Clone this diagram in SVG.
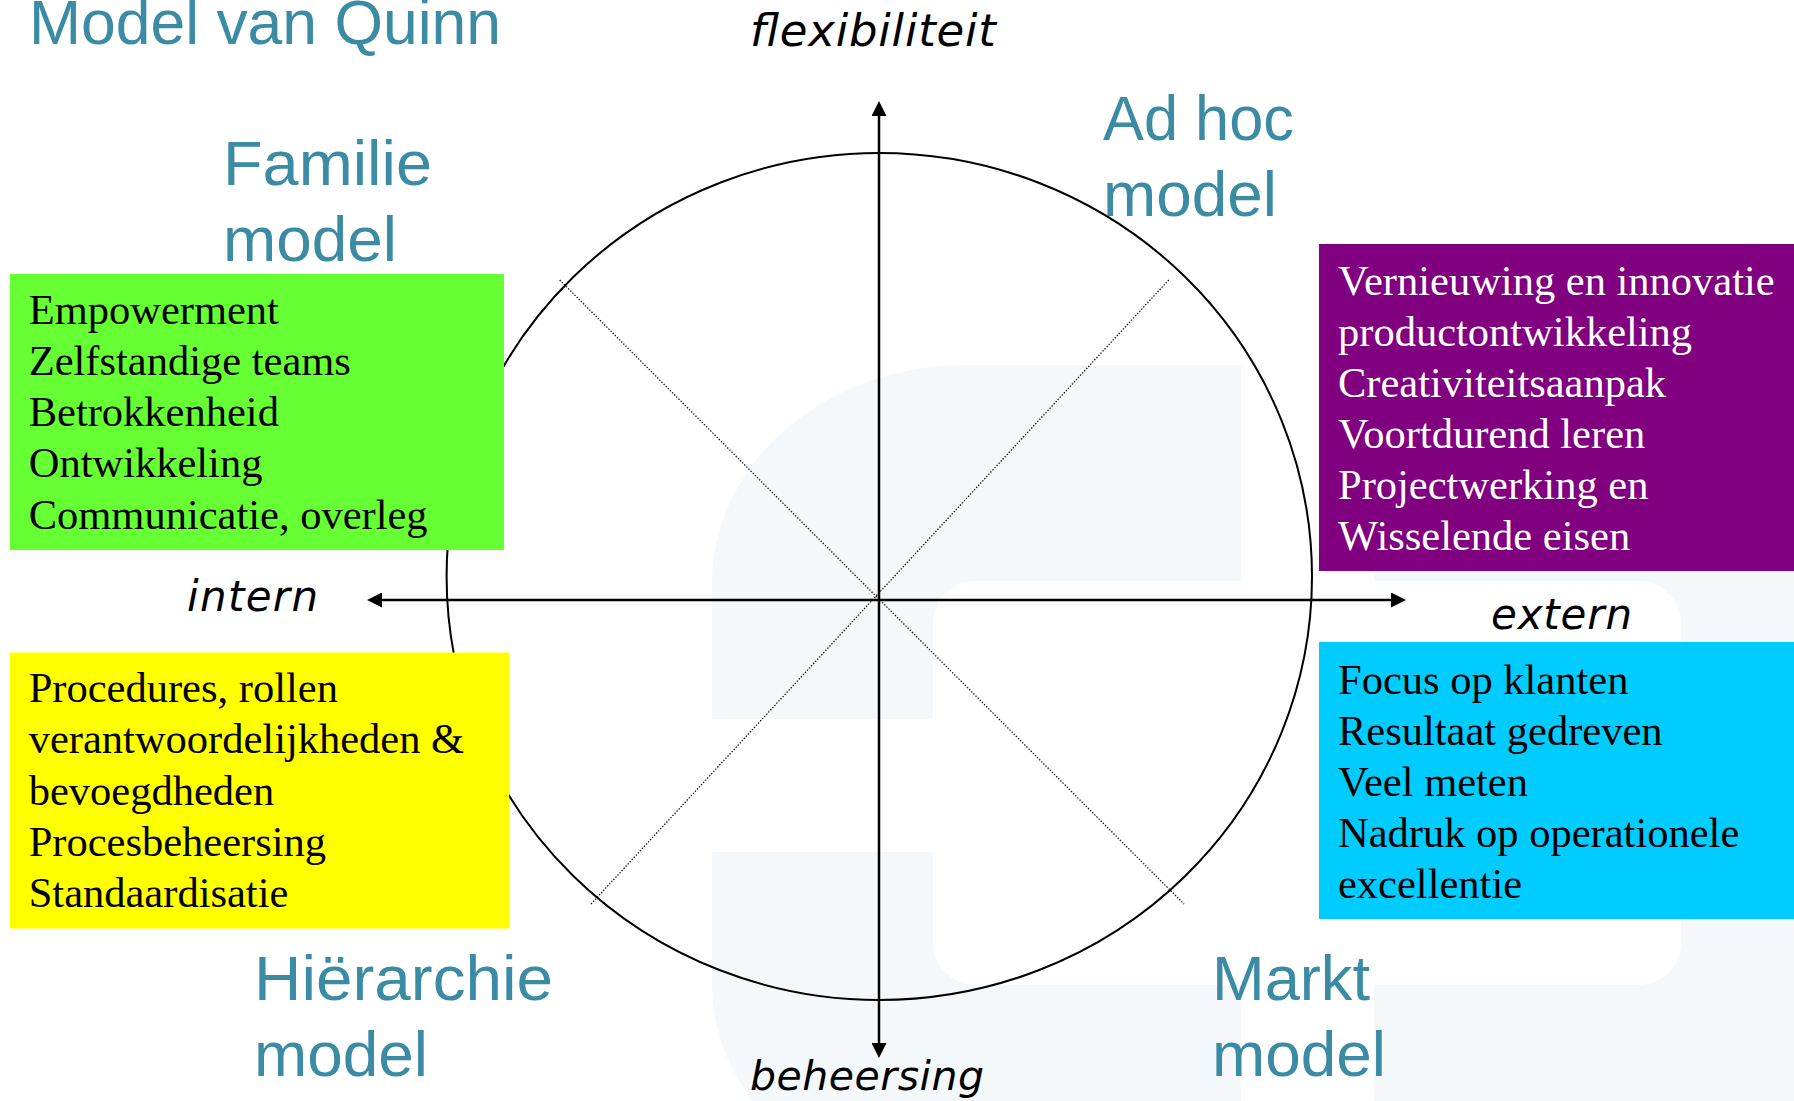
<svg xmlns="http://www.w3.org/2000/svg" width="1794" height="1101" viewBox="0 0 1794 1101">
<style>
.model{font-family:"Liberation Sans",Arial,sans-serif;font-size:63px;fill:#3A8BA3}
.axis-lbl{font-family:"DejaVu Sans",Verdana,sans-serif;font-style:italic;fill:#000}
.item{font-family:"Liberation Serif","Times New Roman",serif;font-size:42.5px}
.axis{stroke:#000;stroke-width:2.5;fill:none}
.diag{stroke:#000;stroke-width:1.3;stroke-dasharray:1.3 1.7;fill:none}
.wm{fill:#F4F8FA}
</style>
<defs>
<marker id="arr" viewBox="0 0 15 15" refX="0" refY="7.5" markerWidth="15" markerHeight="15" markerUnits="userSpaceOnUse" orient="auto-start-reverse">
<path d="M0,0 L15,7.5 L0,15 Z" fill="#000"/>
</marker>
</defs>
<rect width="1794" height="1101" fill="#fff"/>
<g id="watermark">
<path class="wm" d="M712,583 A253,218 0 0 1 965,365 H1800 V1201 H965 A253,218 0 0 1 712,985 Z"/>
<rect x="933" y="581" width="748" height="404" rx="42" fill="#fff"/>
<rect x="1241" y="355" width="133" height="760" fill="#fff"/>
<rect x="700" y="719" width="240" height="133" fill="#fff"/>
</g>
<g id="connectors">
<ellipse cx="879.3" cy="576.5" rx="432.7" ry="423.5" fill="none" stroke="#000" stroke-width="2"/>
<line class="diag" x1="559.7" y1="280" x2="1184" y2="904"/>
<line class="diag" x1="1168.7" y1="280" x2="591" y2="904"/>
<line class="axis" x1="879" y1="116" x2="879" y2="1043" marker-start="url(#arr)" marker-end="url(#arr)"/>
<line class="axis" x1="382" y1="600" x2="1391" y2="600" marker-start="url(#arr)" marker-end="url(#arr)"/>
</g>
<g id="title"><text class="model" x="29" y="44" textLength="472" lengthAdjust="spacingAndGlyphs">Model van Quinn</text></g>
<g id="axis-labels">
<text class="axis-lbl" x="750" y="46" font-size="45" textLength="246" lengthAdjust="spacing">flexibiliteit</text>
<text class="axis-lbl" x="187" y="611" font-size="42" textLength="131" lengthAdjust="spacing">intern</text>
<text class="axis-lbl" x="1491" y="629" font-size="42" textLength="141" lengthAdjust="spacing">extern</text>
<text class="axis-lbl" x="750" y="1090" font-size="41" textLength="234" lengthAdjust="spacing">beheersing</text>
</g>
<g id="familie">
<text class="model" x="223" y="185" textLength="209" lengthAdjust="spacingAndGlyphs">Familie</text>
<text class="model" x="223" y="261" textLength="174" lengthAdjust="spacingAndGlyphs">model</text>
<rect x="10" y="274" width="494" height="276" fill="#66FF33"/>
<text class="item" fill="#000">
<tspan x="28.7" y="323.5">Empowerment</tspan>
<tspan x="28.7" y="374.8">Zelfstandige teams</tspan>
<tspan x="28.7" y="426.1">Betrokkenheid</tspan>
<tspan x="28.7" y="477.4">Ontwikkeling</tspan>
<tspan x="28.7" y="528.7">Communicatie, overleg</tspan>
</text>
</g>
<g id="adhoc">
<text class="model" x="1103" y="140" textLength="191" lengthAdjust="spacingAndGlyphs">Ad hoc</text>
<text class="model" x="1103" y="216" textLength="174" lengthAdjust="spacingAndGlyphs">model</text>
<rect x="1319" y="244" width="480" height="327" fill="#800080"/>
<text class="item" fill="#fff">
<tspan x="1338" y="295">Vernieuwing en innovatie</tspan>
<tspan x="1338" y="346">productontwikkeling</tspan>
<tspan x="1338" y="397">Creativiteitsaanpak</tspan>
<tspan x="1338" y="448">Voortdurend leren</tspan>
<tspan x="1338" y="499">Projectwerking en</tspan>
<tspan x="1338" y="550">Wisselende eisen</tspan>
</text>
</g>
<g id="hierarchie">
<rect x="10" y="652.5" width="499" height="276" fill="#FFFF00"/>
<text class="item" fill="#000">
<tspan x="28.7" y="702">Procedures, rollen</tspan>
<tspan x="28.7" y="753.3">verantwoordelijkheden &amp;</tspan>
<tspan x="28.7" y="804.6">bevoegdheden</tspan>
<tspan x="28.7" y="855.9">Procesbeheersing</tspan>
<tspan x="28.7" y="907.2">Standaardisatie</tspan>
</text>
<text class="model" x="254" y="1000" textLength="299" lengthAdjust="spacingAndGlyphs">Hiërarchie</text>
<text class="model" x="254" y="1076" textLength="174" lengthAdjust="spacingAndGlyphs">model</text>
</g>
<g id="markt">
<rect x="1319" y="642" width="480" height="277" fill="#00CCFF"/>
<text class="item" fill="#000">
<tspan x="1338" y="694">Focus op klanten</tspan>
<tspan x="1338" y="745">Resultaat gedreven</tspan>
<tspan x="1338" y="796">Veel meten</tspan>
<tspan x="1338" y="847">Nadruk op operationele</tspan>
<tspan x="1338" y="898">excellentie</tspan>
</text>
<text class="model" x="1212" y="1000" textLength="158" lengthAdjust="spacingAndGlyphs">Markt</text>
<text class="model" x="1212" y="1076" textLength="174" lengthAdjust="spacingAndGlyphs">model</text>
</g>
</svg>
